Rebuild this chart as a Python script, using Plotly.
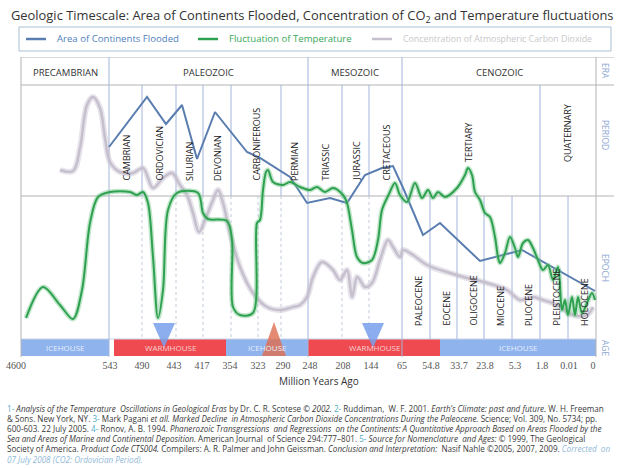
import plotly.graph_objects as go

# ---------------- data (timeline position, relative level) ----------------
flood_x = [109, 147, 166, 182, 197, 215, 247, 260, 290, 300, 307, 330, 347, 365, 382, 393, 404, 423, 440, 480, 522, 595]
flood_y = [210, 260, 233, 252, 198, 245, 205, 199, 180, 165, 154, 159, 154, 182, 189, 191, 167, 122, 134, 96, 107, 66]

temp_x = [26, 43, 60, 73, 82, 90, 98, 110, 130, 137, 143, 148, 153, 158, 163, 168, 177, 198, 203, 208, 227, 232,
          233, 240, 253, 257, 260, 263, 266, 268, 273, 283, 290, 300, 310, 317, 325, 333, 343, 347, 352, 357, 363,
          372, 378, 382, 389, 395, 400, 407, 415, 422, 428, 433, 438, 445, 457, 465, 468, 472, 475, 480, 485, 490,
          495, 498, 500, 505, 510, 515, 518, 523, 528, 533, 538, 543, 548, 553, 558, 562, 565, 568, 572, 575, 578,
          582, 587, 592, 595]
temp_y = [39, 70, 52, 38, 67, 134, 160, 165, 165, 162, 165, 154, 100, 39, 67, 147, 164, 164, 144, 138, 136, 117,
          50, 42, 44, 134, 137, 167, 185, 187, 175, 172, 175, 170, 167, 170, 165, 169, 162, 154, 127, 100, 94,
          97, 117, 147, 163, 174, 162, 155, 174, 159, 167, 159, 165, 160, 169, 182, 189, 182, 165, 157, 144, 140,
          120, 100, 94, 104, 120, 109, 100, 114, 117, 109, 97, 87, 92, 77, 90, 47, 57, 42, 60, 42, 60,
          44, 54, 64, 57]

co2_x = [60, 73, 80, 87, 93, 100, 105, 110, 120, 133, 143, 153, 163, 172, 180, 187, 193, 199, 205, 213, 218, 223,
         230, 240, 253, 267, 280, 293, 300, 307, 313, 322, 333, 340, 347, 352, 357, 360, 365, 372, 380, 388, 393,
         400, 403, 413, 427, 450, 467, 487, 507, 520, 533, 543, 557, 573, 587, 593]
co2_y = [187, 186, 209, 252, 260, 249, 219, 195, 185, 184, 189, 169, 179, 184, 172, 162, 144, 125, 137, 157, 167, 154,
         124, 90, 64, 50, 47, 50, 52, 60, 80, 95, 87, 77, 87, 60, 80, 77, 70, 74, 97, 117, 110,
         100, 107, 102, 92, 84, 79, 74, 67, 57, 60, 57, 52, 42, 42, 50]

# axis tick labels (million years ago)
tick_labels = ["4600", "543", "490", "443", "417", "354", "323", "290", "248", "208", "144", "65", "54.8",
               "33.7", "23.8", "5.3", "1.8", "0.01", "0"]
tick_pos = [16, 110, 142, 174, 202, 230, 258, 283, 310, 343, 371, 402, 431, 459, 485, 515, 542, 569, 593]

eras = ["PRECAMBRIAN", "PALEOZOIC", "MESOZOIC", "CENOZOIC"]
era_bounds = [21, 109, 308, 402, 596]

periods = ["CAMBRIAN", "ORDOVICIAN", "SILURIAN", "DEVONIAN", "CARBONIFEROUS", "PERMIAN",
           "TRIASSIC", "JURASSIC", "CRETACEOUS", "TERTIARY", "QUATERNARY"]
period_bounds = [109, 142, 176, 203, 231, 281, 308, 342, 369, 402, 540, 596]

epochs = ["PALEOCENE", "EOCENE", "OLIGOCENE", "MIOCENE", "PLIOCENE", "PLEISTOCENE", "HOLOCENE"]
epoch_bounds = [402, 430, 457, 484, 512, 540, 568, 596]
sub_bounds = [142, 176, 203, 231, 258, 281, 342, 369]

ages = ["ICEHOUSE", "WARMHOUSE", "ICEHOUSE", "WARMHOUSE", "ICEHOUSE"]
age_bounds = [(21, 109), (114, 226), (226, 308), (308, 440), (440, 596)]

events_down = [164, 373]
events_up = [274]

footnotes = [
    "<span style='color:#4bacc6'>1-</span> <i>Analysis of the Temperature  Oscillations in Geological Eras</i> by Dr. C. R. Scotese © <i>2002.</i> <span style='color:#4bacc6'>2-</span> Ruddiman,  W. F. 2001. <i>Earth’s Climate: past and future.</i> W. H. Freeman",
    "&amp; Sons. New York, NY. <span style='color:#4bacc6'>3-</span> Mark Pagani <i>et all. Marked Decline  in Atmospheric Carbon Dioxide Concentrations During the Paleocene.</i> Science; Vol. 309, No. 5734; pp.",
    "600-603. 22 July 2005. <span style='color:#4bacc6'>4-</span> Ronov, A. B. 1994. <i>Phanerozoic Transgressions  and Regressions  on the Continents: A Quantitative Approach Based on Areas Flooded by the</i>",
    "<i>Sea and Areas of Marine and Continental Deposition.</i> American Journal  of Science 294:777–801. <span style='color:#4bacc6'>5-</span> <i>Source for Nomenclature  and Ages:</i> © 1999, The Geological",
    "Society of America. <i>Product Code CTS004.</i> Compilers: A. R. Palmer and John Geissman. <i>Conclusion and Interpretation:</i>  Nasif Nahle ©2005, 2007, 2009. <i><span style='color:#8fb8d8'>Corrected  on</span></i>",
    "<i><span style='color:#8fb8d8'>07 July 2008 (CO2: Ordovician Period).</span></i>",
]

# ---------------- styling ----------------
W, H = 618, 468
TOP, BOT = 57, 357
BLUE = "#5a7db0"
GREEN = "#2ea150"
GRAY = "#c6bfcd"
VLINE = "#a3b6da"
HLINE = "#b3b3b3"
FONT = "Open Sans"


def lv(py):
    return BOT - py


def pyp(py):  # pixel y -> paper y
    return (BOT - py) / (BOT - TOP)


fig = go.Figure()

# glow + lines
fig.add_trace(go.Scatter(x=co2_x, y=co2_y, mode="lines", line=dict(color="rgba(200,192,210,0.45)", width=6, shape="spline", smoothing=1.0), hoverinfo="skip"))
fig.add_trace(go.Scatter(x=co2_x, y=co2_y, mode="lines", name="Concentration of Atmospheric Carbon Dioxide", line=dict(color=GRAY, width=2.5, shape="spline", smoothing=1.0)))
fig.add_trace(go.Scatter(x=flood_x, y=flood_y, mode="lines", name="Area of Continents Flooded", line=dict(color=BLUE, width=2)))
fig.add_trace(go.Scatter(x=temp_x, y=temp_y, mode="lines", line=dict(color="rgba(120,200,140,0.45)", width=5, shape="spline", smoothing=0.9), hoverinfo="skip"))
fig.add_trace(go.Scatter(x=temp_x, y=temp_y, mode="lines", name="Fluctuation of Temperature", line=dict(color=GREEN, width=2, shape="spline", smoothing=0.9)))

shapes = []
ann = []


def vline(x, py0, py1, color=VLINE, dash="solid", width=1):
    shapes.append(dict(type="line", xref="x", yref="y", x0=x, x1=x, y0=lv(py0), y1=lv(py1),
                       line=dict(color=color, width=width, dash=dash), layer="below"))


def hline(py, x0, x1, color=HLINE, width=1):
    shapes.append(dict(type="line", xref="x", yref="y", x0=x0, x1=x1, y0=lv(py), y1=lv(py),
                       line=dict(color=color, width=width), layer="below"))


# age bar
for (a, b), name in zip(age_bounds, ages):
    warm = name == "WARMHOUSE"
    shapes.append(dict(type="rect", xref="x", yref="y", x0=a, x1=b, y0=lv(356), y1=lv(339),
                       fillcolor="#ee4a50" if warm else "#8fb3ec", line=dict(width=0), layer="below"))
    ann.append(dict(x=(a + b) / 2, y=lv(347.5), xref="x", yref="y", text=name, showarrow=False,
                    font=dict(family=FONT, size=8, color="#f8d0d0" if warm else "#e6eefc")))

# frame & grid
hline(TOP, 21, 614)
hline(85, 21, 614)
hline(196, 21, 614)
hline(339, 21, 596, color="#c9d3e6")
vline(21, TOP, 357, color=HLINE)
vline(596, TOP, 357, color=HLINE)
for x in era_bounds[1:-1]:
    vline(x, TOP, 357)
for x in period_bounds[1:-1]:
    if x not in era_bounds:
        vline(x, 85, 196)
for x in sub_bounds:
    vline(x, 196, 339, color="#c3cbdb", dash="dot")
for x in epoch_bounds[1:-1]:
    vline(x, 196, 339)

# events (triangles)
for x in events_down:
    shapes.append(dict(type="path", xref="x", yref="y",
                       path=f"M {x-11},{lv(323)} L {x+11},{lv(323)} L {x},{lv(348)} Z",
                       fillcolor="rgba(120,160,235,0.85)", line=dict(width=0), layer="above"))
for x in events_up:
    shapes.append(dict(type="path", xref="x", yref="y",
                       path=f"M {x-12},{lv(356)} L {x+12},{lv(356)} L {x},{lv(322)} Z",
                       fillcolor="rgba(222,110,80,0.8)", line=dict(width=0), layer="above"))

# era labels
for i, name in enumerate(eras):
    ann.append(dict(x=(era_bounds[i] + era_bounds[i + 1]) / 2, y=lv(72), xref="x", yref="y", text=name,
                    showarrow=False, font=dict(family=FONT, size=9.5, color="#333")))

# period labels
for i, name in enumerate(periods):
    cx = (period_bounds[i] + period_bounds[i + 1]) / 2
    if name == "TERTIARY":
        ann.append(dict(x=cx - 3, y=lv(142), xref="x", yref="y", text=name, textangle=-90, showarrow=False,
                        font=dict(family=FONT, size=9, color="#222")))
    elif name == "QUATERNARY":
        ann.append(dict(x=cx - 1, y=lv(133), xref="x", yref="y", text=name, textangle=-90, showarrow=False,
                        font=dict(family=FONT, size=9, color="#222")))
    else:
        ann.append(dict(x=cx, y=lv(183), xref="x", yref="y", text=name, textangle=-90, showarrow=False,
                        yanchor="bottom", font=dict(family=FONT, size=9, color="#222")))

# epoch labels
for i, name in enumerate(epochs):
    cx = (epoch_bounds[i] + epoch_bounds[i + 1]) / 2
    ann.append(dict(x=cx + 2, y=lv(328), xref="x", yref="y", text=name, textangle=-90, showarrow=False,
                    yanchor="bottom", font=dict(family=FONT, size=9, color="#222")))

# side column labels
for name, py in [("ERA", 71), ("PERIOD", 135), ("EPOCH", 268), ("AGE", 348)]:
    ann.append(dict(x=606, y=lv(py), xref="x", yref="y", text=name, textangle=90, showarrow=False,
                    font=dict(family=FONT, size=8.5, color="#8aa6d0")))

# title
ann.append(dict(x=9 / W, y=pyp(16), xref="paper", yref="paper", xanchor="left", yanchor="middle",
                text="Geologic Timescale: Area of Continents Flooded, Concentration of CO<sub>2</sub> and Temperature fluctuations",
                showarrow=False, font=dict(family=FONT, size=12.9, color="#333")))

# legend box
shapes.append(dict(type="rect", xref="paper", yref="paper", x0=19 / W, x1=611 / W, y0=pyp(51), y1=pyp(27),
                   line=dict(color="#a9bfd3", width=1), fillcolor="white"))
legend_items = [("Area of Continents Flooded", BLUE, "#4f81bd", 26, 9.6),
                ("Fluctuation of Temperature", GREEN, "#3aa859", 198, 9.6),
                ("Concentration of Atmospheric Carbon Dioxide", GRAY, "#c8c8cc", 372, 8.8)]
for text, lc, tc, x0, fs in legend_items:
    shapes.append(dict(type="line", xref="paper", yref="paper", x0=x0 / W, x1=(x0 + 20) / W,
                       y0=pyp(39), y1=pyp(39), line=dict(color=lc, width=2.5)))
    ann.append(dict(x=(x0 + 29) / W, y=pyp(39), xref="paper", yref="paper", xanchor="left", yanchor="middle",
                    text=text, showarrow=False, font=dict(family=FONT, size=fs, color=tc)))

# axis title
ann.append(dict(x=319 / W, y=pyp(389.5), xref="paper", yref="paper", text="Million Years Ago", showarrow=False,
                font=dict(family=FONT, size=10, color="#333")))

# footnotes
for i, line in enumerate(footnotes):
    ann.append(dict(x=5 / W, y=pyp(408 + i * 10.2), xref="paper", yref="paper", xanchor="left",
                    yanchor="middle", text=line, showarrow=False, align="left",
                    font=dict(family=FONT, size=8.1, color="#3a3a3a")))

fig.update_layout(
    width=W, height=H,
    margin=dict(l=0, r=0, t=TOP, b=H - BOT, pad=0),
    paper_bgcolor="white", plot_bgcolor="white",
    showlegend=False,
    xaxis=dict(range=[0, W], showgrid=False, zeroline=False, showline=False, ticks="",
               tickvals=tick_pos, ticktext=tick_labels, ticklabelstandoff=1,
               tickfont=dict(family="Liberation Serif", size=10, color="#555"), fixedrange=True),
    yaxis=dict(range=[0, BOT - TOP], visible=False, fixedrange=True),
    shapes=shapes, annotations=ann,
)

fig.write_html("out.html", config={"displayModeBar": False},
               post_script="document.body.style.margin='0';document.body.style.padding='0';")
